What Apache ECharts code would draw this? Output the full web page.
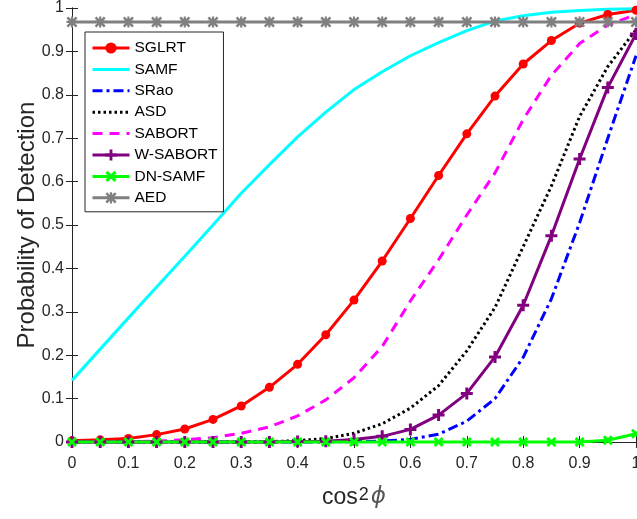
<!DOCTYPE html>
<html>
<head>
<meta charset="utf-8">
<script src="https://cdn.jsdelivr.net/npm/echarts@6/dist/echarts.min.js"></script>
<style>html,body{margin:0;padding:0;background:#fff}#c{width:637px;height:519px}</style>
</head>
<body>
<div id="c"></div>
<script>
var xValues = [0,0.05,0.1,0.15,0.2,0.25,0.3,0.35,0.4,0.45,0.5,0.55,0.6,0.65,0.7,0.75,0.8,0.85,0.9,0.95,1];
var tickValues = [0,0.1,0.2,0.3,0.4,0.5,0.6,0.7,0.8,0.9,1];
var seriesNames = ['SGLRT','SAMF','SRao','ASD','SABORT','W-SABORT','DN-SAMF','AED'];
var sglrt   = [0.003,0.005,0.008,0.017,0.03,0.052,0.083,0.126,0.179,0.247,0.327,0.417,0.515,0.614,0.71,0.797,0.871,0.925,0.965,0.985,0.995];
var samf    = [0.142,0.214,0.286,0.357,0.428,0.50,0.573,0.639,0.703,0.760,0.812,0.853,0.890,0.920,0.948,0.970,0.982,0.990,0.994,0.997,0.998];
var srao    = [0,0,0,0,0,0,0,0,0,0,0.001,0.002,0.006,0.018,0.048,0.10,0.195,0.33,0.505,0.70,0.89];
var asd     = [0,0,0,0,0,0,0,0.001,0.003,0.008,0.02,0.042,0.078,0.13,0.21,0.31,0.45,0.59,0.75,0.865,0.95];
var sabort  = [0,0,0.001,0.002,0.005,0.01,0.02,0.035,0.06,0.097,0.148,0.22,0.325,0.42,0.523,0.62,0.743,0.845,0.918,0.961,0.985];
var wsabort = [0,0,0,0,0,0,0,0,0.001,0.002,0.0055,0.013,0.029,0.062,0.112,0.196,0.315,0.475,0.652,0.817,0.94];
var dnsamf  = [0,0,0,0,0,0,0,0,0,0,0,0,0,0,0,0,0,0,0,0.004,0.019];
var aed     = [0.968,0.968,0.968,0.968,0.968,0.968,0.968,0.968,0.968,0.968,0.968,0.968,0.968,0.968,0.968,0.968,0.968,0.968,0.968,0.968,0.968];

function pairs(ys){ return xValues.map(function(x,i){ return [x, ys[i]]; }); }
var PLUS = 'path://M4.5,0H7.5V4.5H12V7.5H7.5V12H4.5V7.5H0V4.5H4.5Z';
var XMARK = 'path://M2,0L5,3L8,0L10,2L7,5L10,8L8,10L5,7L2,10L0,8L3,5L0,2Z';
var STAR = 'path://M4,0H6V4H10V6H6V10H4V6H0V4H4Z M1.6,0L5,3.4L8.4,0L10,1.6L6.6,5L10,8.4L8.4,10L5,6.6L1.6,10L0,8.4L3.4,5L0,1.6Z';
var fam = 'Liberation Sans, Arial, Helvetica, sans-serif';
var axisCol = '#262626';
function fmt(v){ return String(Math.round(v*10)/10); }

var noMarker = {SAMF: 1, SRao: 1, ASD: 1, SABORT: 1};

function mk(name, data, color, opts){
  return {
    name: name, type: 'line', data: pairs(data),
    lineStyle: {color: color, width: 3, type: opts.dash || 'solid', cap: 'butt'},
    itemStyle: {color: color},
    symbol: opts.symbol || 'none',
    symbolSize: opts.size || 8,
    showSymbol: !!opts.symbol,
    clip: false
  };
}

var chart = echarts.init(document.getElementById('c'), null, {renderer:'canvas'});
chart.setOption({
  animation: false,
  backgroundColor: '#fff',
  textStyle: {fontFamily: fam},
  grid: {left: 72, right: 1, top: 8, bottom: 77, containLabel: false, outerBoundsMode: 'none'},
  legend: {
    left: 85, top: 32, orient: 'vertical',
    itemWidth: 37, itemHeight: 14, itemGap: 5.4,
    padding: [8, 6, 6, 6],
    borderColor: axisCol, borderWidth: 1, backgroundColor: '#fff',
    lineStyle: {width: 3},
    textStyle: {fontSize: 15.5, color: '#000', fontFamily: fam},
    data: seriesNames.map(function(n){
      return noMarker[n] ? {name: n, itemStyle: {opacity: 0}} : {name: n};
    })
  },
  xAxis: [{
    type: 'value', min: 0, max: 1, interval: 0.1, position: 'bottom',
    axisLine: {show: true, lineStyle: {color: axisCol, width: 1}},
    axisTick: {show: true, inside: true, length: 6, lineStyle: {color: axisCol}},
    axisLabel: {fontSize: 16, color: axisCol, margin: 14, formatter: fmt, fontFamily: fam},
    splitLine: {show: false},
    name: '{a|cos}{s|2}{p|ϕ}', nameLocation: 'middle', nameGap: 44, nameMoveOverlap: false,
    nameTextStyle: {rich: {
      a: {fontSize: 23, color: axisCol, fontFamily: fam, verticalAlign: 'bottom'},
      s: {fontSize: 18, color: axisCol, fontFamily: fam, verticalAlign: 'top', padding: [0, 2, 0, 1]},
      p: {fontSize: 23, color: '#555', fontFamily: 'DejaVu Sans, sans-serif', fontStyle: 'italic', verticalAlign: 'bottom'}
    }}
  },{
    type: 'value', min: 0, max: 1, interval: 0.1, position: 'top',
    axisLine: {show: true, lineStyle: {color: axisCol, width: 1}},
    axisTick: {show: true, inside: true, length: 6, lineStyle: {color: axisCol}},
    axisLabel: {show: false}, splitLine: {show: false}
  }],
  yAxis: [{
    type: 'value', min: 0, max: 1, interval: 0.1, position: 'left',
    axisLine: {show: true, lineStyle: {color: axisCol, width: 1}},
    axisTick: {show: true, inside: true, length: 6, lineStyle: {color: axisCol}},
    axisLabel: {fontSize: 16, color: axisCol, margin: 8, formatter: fmt, fontFamily: fam},
    splitLine: {show: false},
    name: 'Probability of Detection', nameLocation: 'middle', nameGap: 33, nameMoveOverlap: false,
    nameTextStyle: {fontSize: 24, color: axisCol, fontFamily: fam}
  },{
    type: 'value', min: 0, max: 1, interval: 0.1, position: 'right',
    axisLine: {show: true, lineStyle: {color: axisCol, width: 1}},
    axisTick: {show: true, inside: true, length: 6, lineStyle: {color: axisCol}},
    axisLabel: {show: false}, splitLine: {show: false}
  }],
  series: [
    mk('SGLRT', sglrt, '#FF0000', {symbol: 'circle', size: 9}),
    mk('SAMF', samf, '#00FFFF', {}),
    mk('SRao', srao, '#0000FF', {dash: [10,4,3,4]}),
    mk('ASD', asd, '#000000', {dash: [2.5,3]}),
    mk('SABORT', sabort, '#FF00FF', {dash: [10,7]}),
    mk('W-SABORT', wsabort, '#800080', {symbol: PLUS, size: 12}),
    mk('DN-SAMF', dnsamf, '#00FF00', {symbol: XMARK, size: 10}),
    mk('AED', aed, '#808080', {symbol: STAR, size: 11})
  ]
});
</script>
</body>
</html>
